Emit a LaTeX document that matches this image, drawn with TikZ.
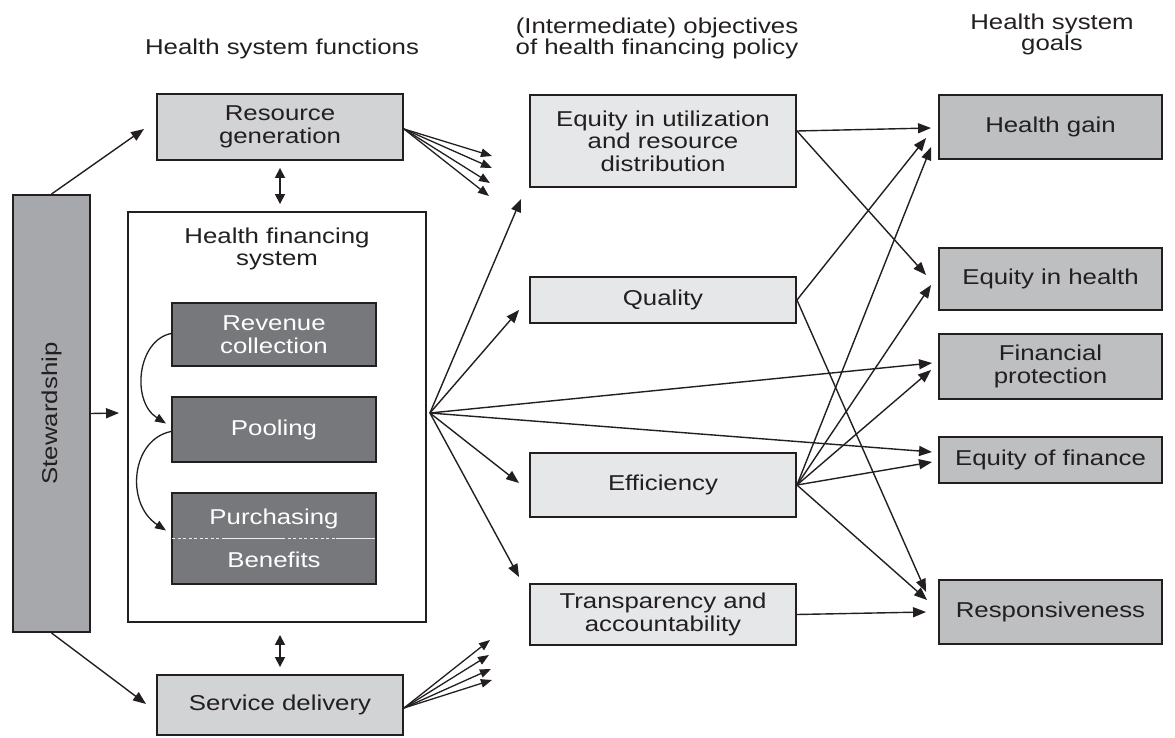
\documentclass[tikz,border=0pt]{standalone}
\usepackage{fontspec}
\setmainfont{Liberation Sans}[FakeStretch=1.2]
\usetikzlibrary{arrows.meta,calc}
\definecolor{ink}{HTML}{231F20}
\definecolor{stewfill}{HTML}{A7A8AB}
\definecolor{funcfill}{HTML}{D2D3D5}
\definecolor{objfill}{HTML}{E6E7E8}
\definecolor{goalfill}{HTML}{BDBFC1}
\definecolor{darkfill}{HTML}{77787B}
\definecolor{divline}{HTML}{EDEDED}
\begin{document}
\begin{tikzpicture}[x=1pt,y=-1pt,
  every node/.style={font=\fontsize{21.5}{22.5}\selectfont, text=ink, inner sep=0pt, align=center},
  head/.style={font=\fontsize{21.5}{19}\selectfont},
  frame/.style={draw=ink, line width=1.9pt},
  funcbox/.style={frame, fill=funcfill, minimum width=246pt},
  objbox/.style={frame, fill=objfill, minimum width=266pt},
  goalbox/.style={frame, fill=goalfill, minimum width=223pt},
  darkbox/.style={frame, fill=darkfill, text=white, minimum width=204pt},
  arr/.style={line width=1.4pt, draw=ink, -{Triangle[length=13pt,width=10pt]}},
  fanarr/.style={line width=1.3pt, draw=ink, -{Triangle[length=11pt,width=8.5pt]}},
  curvarr/.style={line width=1.3pt, draw=ink, -{Triangle[length=11pt,width=8.5pt]}},
  dbl/.style={line width=1.7pt, draw=ink, {Triangle[length=10pt,width=10pt]}-{Triangle[length=10pt,width=10pt]}},
  divider/.style={draw=divline, line width=1.3pt},
]
\useasboundingbox (0,0) rectangle (1175,738);

% headers
\node[head] (h1) at (282,49.4) {Health system functions};
\node[head] (h2) at (657,38.9) {(Intermediate) objectives\\of health financing policy};
\node[head] (h3) at (1052,34.9) {Health system\\goals};

% left column
\node[frame, fill=stewfill, minimum width=77pt, minimum height=437pt] (stew) at (51.5,413.5) {};
\node[rotate=90] (stewlabel) at (stew.center) {Stewardship};

\node[funcbox, minimum height=66pt] (rg) at (280,127) {Resource\\generation};
\node[frame, fill=white, minimum width=298pt, minimum height=410pt] (hfs) at (277,417) {};
\node (hfslabel) at (277,249) {Health financing\\system};
\node[darkbox, minimum height=63pt] (rc) at (274,334.5) {Revenue\\collection};
\node[darkbox, minimum height=65pt] (pool) at (274,429.5) {Pooling};
\node[darkbox, minimum height=91pt] (purch) at (274,538.5) {Purchasing\\[20.5pt]Benefits};
\node[funcbox, minimum height=60pt] (sd) at (280,705) {Service delivery};

% purchasing / benefits divider
\draw[divider, dash pattern=on 3pt off 2.5pt] ($(purch.west)+(1,0)$) -- ($(purch.west)+(53,0)$);
\draw[divider] ($(purch.west)+(53,0)$) -- ($(purch.west)+(111,0)$);
\draw[divider, dash pattern=on 3pt off 2.5pt] ($(purch.west)+(111,0)$) -- ($(purch.west)+(165,0)$);
\draw[divider] ($(purch.west)+(165,0)$) -- ($(purch.east)+(-2,0)$);

% middle column
\node[objbox, minimum height=92pt] (equ) at (663,141) {Equity in utilization\\and resource\\distribution};
\node[objbox, minimum height=46pt] (qual) at (663,300) {Quality};
\node[objbox, minimum height=64pt] (eff) at (663,485) {Efficiency};
\node[objbox, minimum height=61pt] (transp) at (663,614.5) {Transparency and\\accountability};

% right column
\node[goalbox, minimum height=64pt] (hg) at (1050.5,127) {Health gain};
\node[goalbox, minimum height=62pt] (eqh) at (1050.5,279) {Equity in health};
\node[goalbox, minimum height=65pt] (fp) at (1050.5,366.5) {Financial\\protection};
\node[goalbox, minimum height=46pt] (ef) at (1050.5,460) {Equity of finance};
\node[goalbox, minimum height=64pt] (resp) at (1050.5,612) {Responsiveness};

% stewardship arrows
\draw[arr] (stew.north) -- ($(rg.west)+(-12,2)$);
\draw[arr] (stew.south) -- ($(sd.west)+(-10,-1)$);
\draw[arr] (stew.east) -- ($(hfs.west)+(-8,-4)$);

% double arrows
\draw[dbl] ($(rg.south)+(0,7)$) -- ($(rg.south |- hfs.north)+(0,-7)$);
\draw[dbl] ($(sd.north |- hfs.south)+(0,12)$) -- ($(sd.north)+(0,-7)$);

% curved arrows inside health financing system
\draw[curvarr] ($(rc.west)+(0,-1)$) .. controls ($(rc.west)+(-34,6)$) and ($(pool.west)+(-40,-28)$) .. ($(pool.west)+(-5,-6)$);
\draw[curvarr] ($(pool.west)+(0,2)$) .. controls ($(pool.west)+(-40,10)$) and ($(purch.west)+(-46,-35)$) .. ($(purch.west)+(-5,-8)$);

% fans from resource generation and service delivery
\coordinate (rgout) at ($(rg.east)+(0,2)$);
\draw[fanarr] (rgout) -- ($(rg.east)+(88,29)$);
\draw[fanarr] (rgout) -- ($(rg.east)+(88,41)$);
\draw[fanarr] (rgout) -- ($(rg.east)+(86,56)$);
\draw[fanarr] (rgout) -- ($(rg.east)+(85,69)$);
\coordinate (sdout) at ($(sd.east)+(0,3)$);
\draw[fanarr] (sdout) -- ($(sd.east)+(86,-65)$);
\draw[fanarr] (sdout) -- ($(sd.east)+(85,-50)$);
\draw[fanarr] (sdout) -- ($(sd.east)+(87,-36)$);
\draw[fanarr] (sdout) -- ($(sd.east)+(88,-25)$);

% health financing system to objectives / goals
\coordinate (hfsout) at ($(hfs.east)+(3,-4)$);
\draw[arr] (hfsout) -- ($(equ.south west)+(-8,11)$);
\draw[arr] (hfsout) -- ($(qual.west)+(-10,10)$);
\draw[arr] (hfsout) -- ($(eff.west)+(-10,-2)$);
\draw[arr] (hfsout) -- ($(transp.north west)+(-10,-6)$);
\draw[arr] (hfsout) -- ($(fp.west)+(-6,-3.5)$);
\draw[arr] (hfsout) -- ($(ef.west)+(-6,-8)$);

% objectives to goals
\coordinate (equout) at ($(equ.east)+(0,-10)$);
\draw[arr] (equout) -- ($(hg.west)+(-7,1)$);
\draw[arr] (equout) -- ($(eqh.west)+(-12,-4)$);
\draw[arr] (qual.east) -- ($(hg.west)+(-12,11)$);
\draw[arr] (qual.east) -- ($(resp.west)+(-12,-20)$);
\draw[arr] (eff.east) -- ($(hg.west)+(-7,20)$);
\draw[arr] (eff.east) -- ($(eqh.west)+(-7,6)$);
\draw[arr] (eff.east) -- ($(fp.west)+(-7,3.5)$);
\draw[arr] (eff.east) -- ($(ef.west)+(-6,2)$);
\draw[arr] (eff.east) -- ($(resp.west)+(-11,-12)$);
\draw[arr] (transp.east) -- ($(resp.west)+(-12,0)$);
\end{tikzpicture}
\end{document}
